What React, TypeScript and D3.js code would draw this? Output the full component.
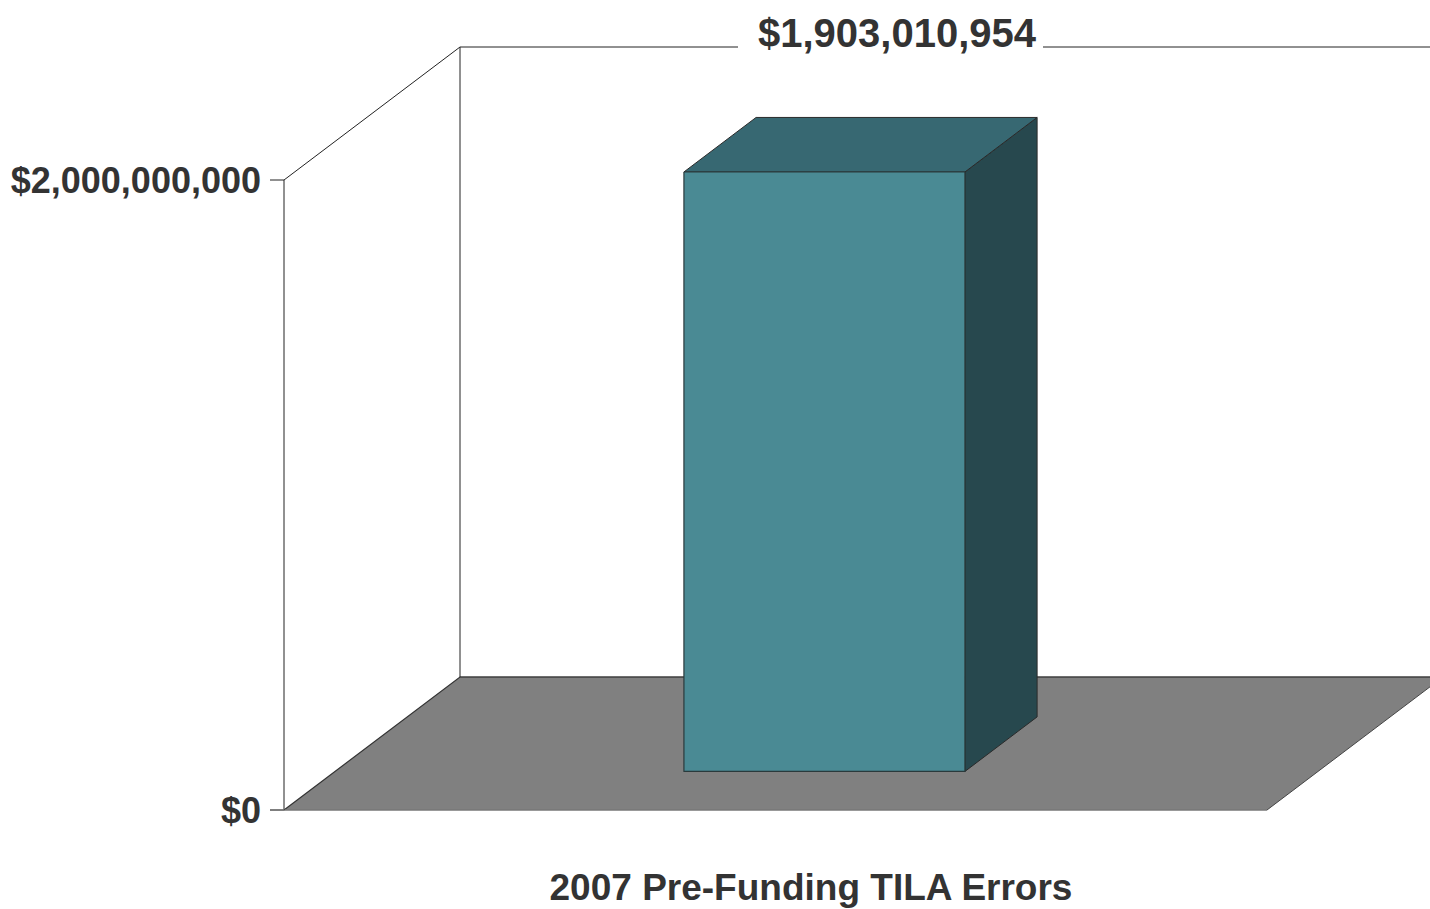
import React from "react";
import * as d3 from "d3";

const categories = ["2007 Pre-Funding TILA Errors"];
const values = [1903010954];
const yTicks = [0, 2000000000];
const valueLabels = ["$1,903,010,954"];

const W = 1430;
const H = 909;
// front plane
const X0 = 284, X1 = 1267;
const Y0 = 810, YTOP = 180;
// full depth offset
const DX = 176, DY = -133;
const BAR_T0 = 0.29, BAR_T1 = 0.7;

export default function App() {
  const y = d3.scaleLinear().domain([0, 2000000000]).range([Y0, YTOP]);
  const x = d3.scaleBand<string>().domain(categories).range([X0, X1]).paddingInner(0).paddingOuter(1.249).align(0.497);
  const depth = d3.scaleLinear().domain([0, 1]).range([0, 1]);
  const P = (px: number, py: number, t: number): [number, number] => [px + DX * depth(t), py + DY * depth(t)];
  const poly = (pts: [number, number][]) => d3.line()(pts.concat([pts[0]])) as string;

  const fmt = (v: number) => "$" + d3.format(",")(v);
  const font = "'Liberation Sans', Arial, Helvetica, sans-serif";
  const textColor = "#333333";

  const floor = poly([P(X0, Y0, 0), P(X1, Y0, 0), P(X1, Y0, 1), P(X0, Y0, 1)]);
  const topY = y(2000000000);
  const backTopY = P(X0, topY, 1)[1];
  const labelGap: [number, number] = [738, 1043];

  return (
    <svg width={W} height={H} style={{ position: "absolute", left: 0, top: 0, background: "#fff" }}>
      {/* floor */}
      <path d={floor} fill="#808080" stroke="none" />
      <path d={d3.line()([P(X0, Y0, 0), P(X0, Y0, 1), P(X1, Y0, 1), P(X1 + DX, Y0 + DY, 0)]) as string} fill="none" stroke="#333" strokeWidth={1.2} />
      <path d={d3.line()([P(X0, Y0, 1), P(X1, Y0, 1), P(X1, Y0, 0)]) as string} fill="none" stroke="#444" strokeWidth={1} />
      <line x1={270} x2={X1} y1={Y0} y2={Y0} stroke="#777" strokeWidth={1.5} />
      {/* walls */}
      <line x1={X0} x2={X0} y1={topY} y2={Y0} stroke="#222" strokeWidth={1} />
      <line x1={X0 + DX} x2={X0 + DX} y1={backTopY} y2={Y0 + DY} stroke="#222" strokeWidth={1} />
      <line x1={X0} y1={topY} x2={X0 + DX} y2={backTopY} stroke="#222" strokeWidth={1} />
      <line x1={X0 + DX} x2={labelGap[0]} y1={backTopY} y2={backTopY} stroke="#222" strokeWidth={1} />
      <line x1={labelGap[1]} x2={W} y1={backTopY} y2={backTopY} stroke="#222" strokeWidth={1} />
      {/* ticks */}
      {yTicks.map((t) => (
        <g key={t}>
          <line x1={270} x2={X0} y1={y(t)} y2={y(t)} stroke={t === 0 ? "#777" : "#222"} strokeWidth={t === 0 ? 1.5 : 1} />
          <text x={261} y={y(t) + 13} textAnchor="end" fontFamily={font} fontWeight="bold" fontSize={36} fill={textColor}>
            {fmt(t)}
          </text>
        </g>
      ))}
      {/* bars */}
      {categories.map((c, i) => {
        const bx0 = x(c)!;
        const bx1 = bx0 + x.bandwidth();
        const by = y(values[i]);
        const front = [P(bx0, by, BAR_T0), P(bx1, by, BAR_T0), P(bx1, Y0, BAR_T0), P(bx0, Y0, BAR_T0)] as [number, number][];
        const top = [P(bx0, by, BAR_T0), P(bx0, by, BAR_T1), P(bx1, by, BAR_T1), P(bx1, by, BAR_T0)] as [number, number][];
        const side = [P(bx1, by, BAR_T0), P(bx1, by, BAR_T1), P(bx1, Y0, BAR_T1), P(bx1, Y0, BAR_T0)] as [number, number][];
        return (
          <g key={c}>
            <path d={poly(side)} fill="#27484e" stroke="#2a2a2a" strokeWidth={1} strokeLinejoin="round" />
            <path d={poly(top)} fill="#376872" stroke="#2a2a2a" strokeWidth={1} strokeLinejoin="round" />
            <path d={poly(front)} fill="#4a8a94" stroke="#2a3a3c" strokeWidth={1.2} strokeLinejoin="round" />
            <text x={897} y={backTopY} textAnchor="middle" fontFamily={font} fontWeight="bold" fontSize={40} fill={textColor}>
              {valueLabels[i]}
            </text>
            <text x={811} y={900} textAnchor="middle" fontFamily={font} fontWeight="bold" fontSize={37} fill={textColor}>
              {c}
            </text>
          </g>
        );
      })}
    </svg>
  );
}
